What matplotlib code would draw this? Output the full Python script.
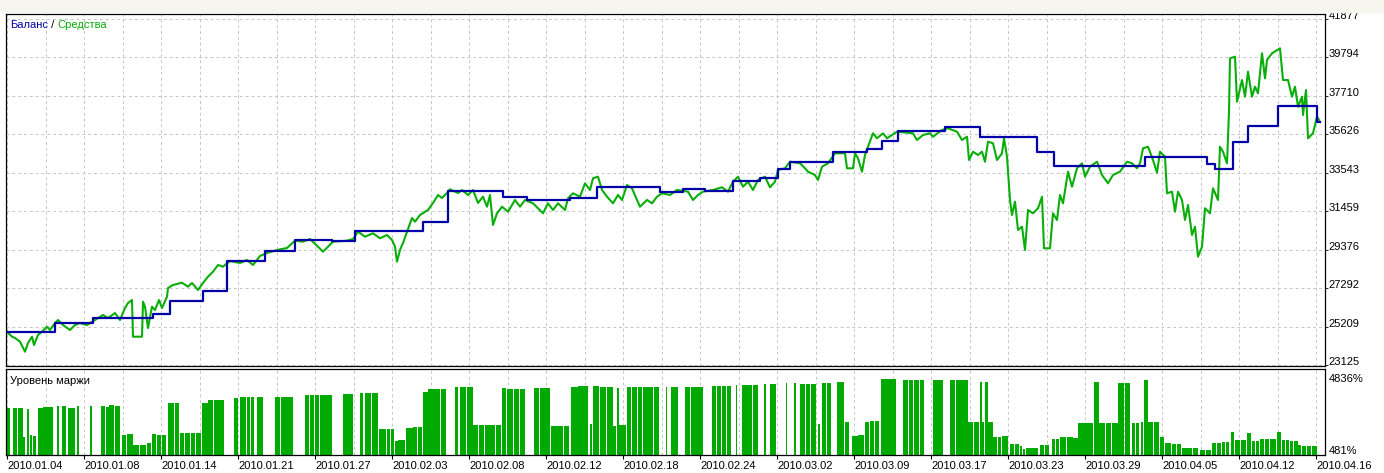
import numpy as np
import matplotlib
matplotlib.use('Agg')
import matplotlib.pyplot as plt
from matplotlib.patches import Rectangle

plt.rcParams['font.family'] = ['Liberation Sans', 'DejaVu Sans']

# test steps (x axis is the tester's step counter, labelled by dates)
date_labels = ['2010.01.04', '2010.01.08', '2010.01.14', '2010.01.21', '2010.01.27',
               '2010.02.03', '2010.02.08', '2010.02.12', '2010.02.18', '2010.02.24',
               '2010.03.02', '2010.03.09', '2010.03.17', '2010.03.23', '2010.03.29',
               '2010.04.05', '2010.04.12', '2010.04.16']
price_ticks = [23125, 25209, 27292, 29376, 31459, 33543, 35626, 37710, 39794, 41877]
margin_ticks = [481, 4836]

# balance (changes only when a trade closes)
bal_step = [7, 55, 93, 153, 170, 203, 227, 265, 295, 332,
            355, 423, 448, 503, 527, 570, 597, 660, 683, 705,
            733, 760, 778, 790, 833, 867, 882, 898, 945, 980,
            1037, 1054, 1118, 1145, 1207, 1215, 1233, 1248, 1278, 1317, 1320]
bal_value = [24930, 25418, 25656, 25889, 26610, 27152, 28761, 29303, 29900, 29862,
             30371, 30891, 32572, 32246, 32068, 32192, 32788, 32485, 32647, 32555,
             33097, 33276, 33731, 34111, 34653, 34815, 35282, 35823, 36008, 35466,
             34653, 33910, 33926, 34414, 34019, 33748, 35227, 36094, 37162, 36311, 36311]

# equity
eq_step = [7, 12, 15, 20, 25, 28, 32, 34, 38, 42, 47, 50, 55, 58, 63, 70, 75, 80, 87, 95,
           103, 108, 115, 120, 125, 128, 132, 133, 142, 143, 145, 148, 152, 155, 159, 162, 167, 168, 173, 182,
           188, 192, 198, 203, 208, 213, 218, 223, 230, 240, 247, 253, 260, 267, 277, 287, 295, 303, 310, 318,
           323, 328, 333, 347, 353, 358, 365, 373, 380, 387, 392, 395, 397, 400, 403, 412, 415, 420, 428, 433,
           438, 442, 447, 450, 458, 462, 468, 473, 478, 483, 487, 490, 493, 497, 502, 508, 515, 520, 525, 533,
           543, 548, 553, 558, 565, 568, 573, 580, 585, 590, 593, 598, 602, 607, 613, 618, 622, 627, 632, 637,
           640, 647, 652, 657, 662, 670, 677, 688, 693, 698, 703, 713, 722, 728, 733, 738, 743, 748, 753, 758,
           765, 770, 775, 778, 785, 790, 800, 805, 808, 815, 818, 822, 828, 835, 845, 847, 853, 855, 858, 862,
           865, 868, 873, 877, 880, 883, 887, 897, 913, 917, 923, 930, 933, 942, 948, 957, 962, 967, 969, 973,
           978, 982, 985, 988, 993, 997, 1002, 1004, 1007, 1010, 1012, 1015, 1018, 1022, 1025, 1028, 1033, 1038, 1042, 1044,
           1050, 1053, 1057, 1060, 1063, 1068, 1072, 1077, 1082, 1085, 1090, 1097, 1102, 1108, 1113, 1120, 1127, 1132, 1137, 1140,
           1143, 1148, 1153, 1157, 1160, 1165, 1167, 1172, 1175, 1178, 1182, 1185, 1188, 1192, 1195, 1198, 1202, 1205, 1210, 1213,
           1218, 1220, 1223, 1227, 1229, 1230, 1235, 1237, 1242, 1245, 1248, 1252, 1255, 1258, 1262, 1265, 1267, 1272, 1280, 1283,
           1288, 1292, 1295, 1298, 1302, 1303, 1306, 1308, 1313, 1317, 1319]
eq_value = [24930, 24659, 24588, 24388, 23846, 24317, 24659, 24209, 24751, 24930, 25201, 25022, 25401, 25564, 25293, 25022, 25293, 25401, 25293, 25564,
            25835, 25672, 25943, 25564, 26214, 26485, 26648, 24659, 24659, 26556, 26285, 25130, 26285, 26106, 26648, 26214, 26827, 27298, 27461, 27585,
            27369, 27569, 27190, 27569, 27911, 28182, 28545, 28453, 28762, 28653, 28816, 28545, 29033, 29196, 29358, 29466, 29862, 29808, 29954, 29537,
            29266, 29537, 29808, 29862, 29954, 30350, 30079, 30263, 29992, 30171, 29900, 29537, 28724, 29358, 29737, 31092, 30891, 31255, 31526, 31906,
            32339, 32176, 32447, 32648, 32447, 32610, 32339, 32610, 31906, 32246, 31704, 32339, 30713, 31347, 31704, 31434, 32068, 31704, 32068, 31888,
            31347, 31888, 31526, 31888, 31526, 32160, 32431, 32246, 32973, 32610, 33244, 33331, 32610, 32246, 31888, 32339, 32068, 32881, 32702, 32068,
            31704, 32068, 31888, 32246, 32431, 32339, 32610, 32518, 32068, 32339, 32518, 32610, 32756, 32518, 33059, 33331, 32789, 33059, 32610, 33152,
            33331, 32756, 33059, 33694, 33786, 34143, 34057, 33786, 33601, 33423, 33152, 33872, 34057, 34598, 34598, 33786, 33786, 34598, 34327, 33601,
            34506, 34956, 35683, 35412, 35550, 35683, 35412, 35769, 35683, 35319, 35590, 35683, 35498, 35861, 35953, 35769, 35319, 35498, 34235, 34685,
            34506, 34685, 34143, 35227, 35141, 34235, 34598, 35412, 34414, 32068, 31254, 31975, 30442, 30620, 29358, 31526, 31347, 31618, 32246, 29450,
            29450, 31347, 30984, 32339, 31888, 33601, 32789, 33786, 34057, 33331, 33872, 34143, 33423, 32973, 33423, 33601, 34143, 34057, 33786, 34057,
            34869, 34956, 34235, 33547, 34685, 34414, 32431, 32518, 31434, 32518, 32068, 30984, 31797, 30171, 30620, 28995, 29537, 31618, 31347, 32702,
            32068, 34956, 34685, 34057, 36853, 39747, 39834, 37395, 38571, 37666, 39021, 37666, 38208, 37850, 40018, 38663, 39655, 40018, 40289, 38571,
            38571, 37666, 38208, 37124, 37666, 36674, 38029, 35412, 35683, 36582, 36404]

# margin level (%), one entry per run of bars
m_from = [7.3, 12.7, 18.3, 23.3, 27.3, 30, 32.7, 38.3, 43.3, 56.7,
          61.7, 68.3, 76.7, 90, 100.7, 106, 109.3, 115, 121.7, 126.7,
          133.3, 146.7, 151.7, 156.7, 168.3, 175, 180, 185, 201.7, 208.3,
          234, 240, 246.7, 256.7, 275, 305, 320, 343.3, 360, 365,
          379.3, 386.7, 395, 398.3, 406, 413.3, 422.7, 428.3, 455, 460,
          473.3, 501.7, 507.3, 534.3, 551, 570.7, 578.3, 590, 592.7, 600,
          613.3, 616.7, 619.3, 626.7, 665.7, 670.7, 685, 712.3, 736, 741.7,
          764, 770, 785.7, 794, 800, 818.3, 821.7, 837.3, 845, 851.7,
          858.3, 865, 870, 881, 903.3, 933.3, 950, 968.3, 980, 982.3,
          985, 988.3, 993.3, 1001.7, 1010, 1020, 1022.5, 1025.5, 1028.3, 1040,
          1051.7, 1060, 1073.3, 1078.3, 1094, 1099.3, 1118.3, 1131.7, 1140.7, 1144,
          1148.3, 1160, 1165, 1171.7, 1181.7, 1200, 1211.7, 1221.7, 1231, 1235,
          1246.7, 1251.7, 1260, 1270, 1276.7, 1281.7, 1290, 1298.3, 1301.7, 1311.7]
m_to = [10.7, 17.3, 23.3, 26, 30, 32.7, 36.7, 43.3, 53.3, 60,
        66.7, 76, 79.3, 92.7, 106, 109.3, 115, 120.7, 126.7, 133.3,
        146.7, 151.7, 156.7, 166.7, 175, 180, 185, 201.7, 208.3, 225,
        238.3, 246.7, 255, 264, 293.3, 320, 332.7, 353.3, 363.3, 378.3,
        386.7, 395, 398.3, 406, 413.3, 422.7, 428.3, 446.7, 458.3, 473.3,
        501.7, 506.7, 526, 551, 570, 578.3, 588.3, 592.7, 600, 613.3,
        616.7, 619.3, 626.7, 659.3, 667.3, 678.3, 703.3, 731.7, 737.3, 758.3,
        766.7, 776.7, 787.3, 796.7, 816.7, 820.7, 831.7, 845, 850, 858.3,
        865, 870, 880, 896.7, 925, 943.3, 968.3, 980, 982.3, 985,
        988.3, 993.3, 1001.7, 1008.3, 1020, 1022.5, 1025.5, 1028.3, 1038.3, 1050,
        1060, 1073.3, 1078.3, 1093.3, 1099.3, 1118.3, 1130.7, 1140, 1144, 1148.3,
        1160, 1165, 1171.7, 1181.7, 1198.3, 1211.7, 1221.7, 1230, 1235, 1246.7,
        1251.7, 1260, 1270, 1276.7, 1281.7, 1290, 1298.3, 1301.7, 1311.7, 1317.3]
m_level = [3102, 3102, 3062, 1347, 3021, 1448, 1388, 3102, 3143, 3203,
           3203, 3102, 3203, 3203, 3203, 3163, 3264, 3203, 1448, 1509,
           843, 944, 1509, 1448, 3405, 3405, 1589, 1589, 3405, 3566,
           3667, 3727, 3727, 3768, 3768, 3849, 3849, 3929, 3970, 3970,
           1831, 1791, 1085, 1146, 1852, 1912, 4050, 4212, 4333, 4333,
           2033, 4272, 4232, 4272, 2013, 4373, 4433, 2114, 4433, 4373,
           2013, 4272, 2053, 4333, 4373, 4373, 4373, 4433, 4474, 4474,
           4514, 4534, 4575, 4575, 4534, 2114, 4615, 4655, 2215, 1388,
           1448, 2255, 2316, 4837, 4776, 4776, 4776, 2215, 4655, 2215,
           4655, 2215, 1347, 1388, 884, 803, 600, 641, 641, 843,
           1206, 1307, 1287, 2154, 4635, 2154, 4575, 2154, 2255, 4776,
           2215, 1347, 944, 904, 641, 560, 944, 1045, 1650, 1146,
           1590, 1105, 1186, 1206, 1650, 1146, 1105, 843, 803, 783]

assert len(eq_step) == len(eq_value)
assert len(m_from) == len(m_to) == len(m_level)

blue = '#0000a8'
green = '#0aae0a'
bar_green = '#00aa00'
grid_c = '#c6c6c6'

W, H = 1384, 473
fig = plt.figure(figsize=(W / 100, H / 100), dpi=100, facecolor='white')
fig.patches.append(Rectangle((0, 1 - 12 / H), 1, 12 / H, transform=fig.transFigure,
                             color='#f7f6ee', zorder=0))


def box(l, t, r, b):
    return [l / W, 1 - b / H, (r - l) / W, (b - t) / H]


ax = fig.add_axes(box(6, 14, 1325, 366))
ax2 = fig.add_axes(box(6, 369, 1325, 455), sharex=ax)

x_lo, x_hi = 6, 1325
label_pos = np.linspace(7, 1316, len(date_labels))
grid_pos = np.linspace(7, 1316, 2 * len(date_labels) - 1)

# --- main panel: balance / equity
ax.set_xlim(x_lo, x_hi)
ax.set_ylim(23071, 42148)
for gx in grid_pos:
    ax.axvline(gx, color=grid_c, lw=0.7, dashes=(3, 3), zorder=0)
    ax2.axvline(gx, color=grid_c, lw=0.7, dashes=(3, 3), zorder=0)
for gy in price_ticks:
    ax.axhline(gy, color=grid_c, lw=0.7, dashes=(3, 3), zorder=0)

ax.plot(eq_step, eq_value, color=green, lw=1.5, zorder=2)
ax.plot(bal_step, bal_value, color=blue, lw=1.6, drawstyle='steps-post', zorder=3)

ax.yaxis.tick_right()
ax.set_yticks(price_ticks)
ax.tick_params(axis='y', length=2.5, width=0.6, labelright=False, right=True, left=False)
ax.tick_params(axis='x', bottom=False, labelbottom=False)
for v in price_ticks:
    ax.text(1.0025, v, str(v), transform=ax.get_yaxis_transform(), fontsize=8,
            va='baseline', ha='left')

for sp in ax.spines.values():
    sp.set_color('black')
    sp.set_linewidth(0.9)

# legend-like title
r = fig.canvas.get_renderer()
xpix = 10
for s, c in [('Баланс', blue), (' / ', 'black'), ('Средства', green)]:
    t = fig.text(xpix / W, 1 - 24.5 / H, s, color=c, fontsize=8, va='center', ha='left')
    xpix += t.get_window_extent(r).width

# --- lower panel: margin level
y_lo, y_hi = 239, 5442
ax2.set_ylim(y_lo, y_hi)
for a, b, lev in zip(m_from, m_to, m_level):
    n = max(1, int(round((b - a) / 5.5)))
    w = (b - a) / n
    lefts = a + w * np.arange(n)
    ax2.bar(lefts, [lev - y_lo] * n, width=max(w - 0.7, 0.8), bottom=y_lo,
            align='edge', color=bar_green, linewidth=0, zorder=2)

ax2.set_yticks([])
for v in margin_ticks:
    ax2.text(1.0025, v, f'{v}%', transform=ax2.get_yaxis_transform(), fontsize=8,
             va='center', ha='left')
ax2.text(4 / 1319, 0.855, 'Уровень маржи', transform=ax2.transAxes, fontsize=8,
         va='center', ha='left')

ax2.set_xticks(label_pos)
ax2.set_xticklabels(date_labels, fontsize=8)
plt.setp(ax2.get_xticklabels(), ha='left')
ax2.tick_params(axis='x', length=3, width=0.8, pad=1.5, direction='out')
for sp in ax2.spines.values():
    sp.set_color('black')
    sp.set_linewidth(0.9)

fig.savefig('out.png', dpi=100, facecolor=fig.get_facecolor())
